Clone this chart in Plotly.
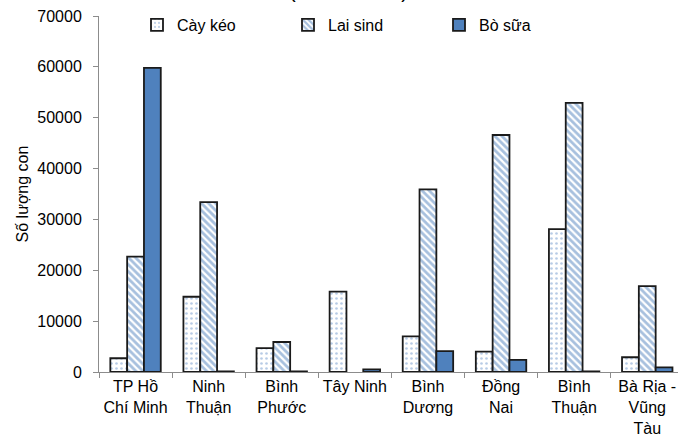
import plotly.graph_objects as go

# Provinces (x categories)
provinces = [
    "TP Hồ<br>Chí Minh", "Ninh<br>Thuận", "Bình<br>Phước", "Tây Ninh",
    "Bình<br>Dương", "Đồng<br>Nai", "Bình<br>Thuận", "Bà Rịa -<br>Vũng<br>Tàu",
]

# Head counts per cattle group
cay_keo = [2700, 14800, 4700, 15800, 7000, 4000, 28100, 2900]
lai_sind = [22700, 33400, 5900, None, 35900, 46600, 52900, 16900]
bo_sua = [59800, 120, 120, 500, 4100, 2400, 120, 900]

y_ticks = [0, 10000, 20000, 30000, 40000, 50000, 60000, 70000]

FONT = "Liberation Sans, Arial, sans-serif"
BLUE = "#4F81BD"
OUTLINE = dict(color="#1a1a1a", width=1.8)

fig = go.Figure()
fig.add_trace(go.Bar(
    name="Cày kéo", x=provinces, y=cay_keo,
    marker=dict(color="white", line=OUTLINE,
                pattern=dict(shape=".", fgcolor="#6F97CC", bgcolor="white",
                             size=5, solidity=0.22)),
))
fig.add_trace(go.Bar(
    name="Lai sind", x=provinces, y=lai_sind,
    marker=dict(color="white", line=OUTLINE,
                pattern=dict(shape="\\", fgcolor=BLUE, bgcolor="white",
                             size=5, solidity=0.55)),
))
fig.add_trace(go.Bar(
    name="Bò sữa", x=provinces, y=bo_sua,
    marker=dict(color=BLUE, line=OUTLINE),
))

# Clipped heading at the very top
fig.add_annotation(
    text="(" + "\u00a0" * 19 + ")", xref="paper", yref="paper",
    x=(348 - 99) / (678 - 99), y=1.034, xanchor="center", yanchor="bottom",
    showarrow=False, font=dict(family=FONT, size=20, color="black"),
)

fig.update_layout(
    width=678, height=439,
    margin=dict(l=99, r=0, t=16, b=67),
    paper_bgcolor="white", plot_bgcolor="white",
    font=dict(family=FONT, size=16, color="black"),
    barmode="group", bargap=0.31, bargroupgap=0,
    showlegend=True,
    legend=dict(
        orientation="h", x=(137 - 99) / (678 - 99), y=1 - 9 / 356,
        xanchor="left", yanchor="middle",
        font=dict(family=FONT, size=16, color="black"),
        entrywidth=106, entrywidthmode="pixels",
        bgcolor="rgba(0,0,0,0)", itemwidth=30,
    ),
    xaxis=dict(
        type="category", range=[-0.5, -0.5 + (678 - 99) / 73.1],
        showline=True, linecolor="#8c8c8c", linewidth=1,
        ticks="outside", tickson="boundaries", ticklen=5, tickcolor="#8c8c8c",
        showgrid=False, tickfont=dict(family=FONT, size=16, color="black"),
    ),
    yaxis=dict(
        range=[0, 70000], tickvals=y_ticks, ticktext=[str(v) for v in y_ticks],
        showline=True, linecolor="#8c8c8c", linewidth=1,
        ticks="outside", ticklen=5, tickcolor="#8c8c8c",
        ticklabelstandoff=8,
        showgrid=False, zeroline=False,
        tickfont=dict(family=FONT, size=16, color="black"),
        title=dict(text="Số lượng con", font=dict(family=FONT, size=16, color="black"),
                   standoff=4),
    ),
)

fig.write_html("out.html")
